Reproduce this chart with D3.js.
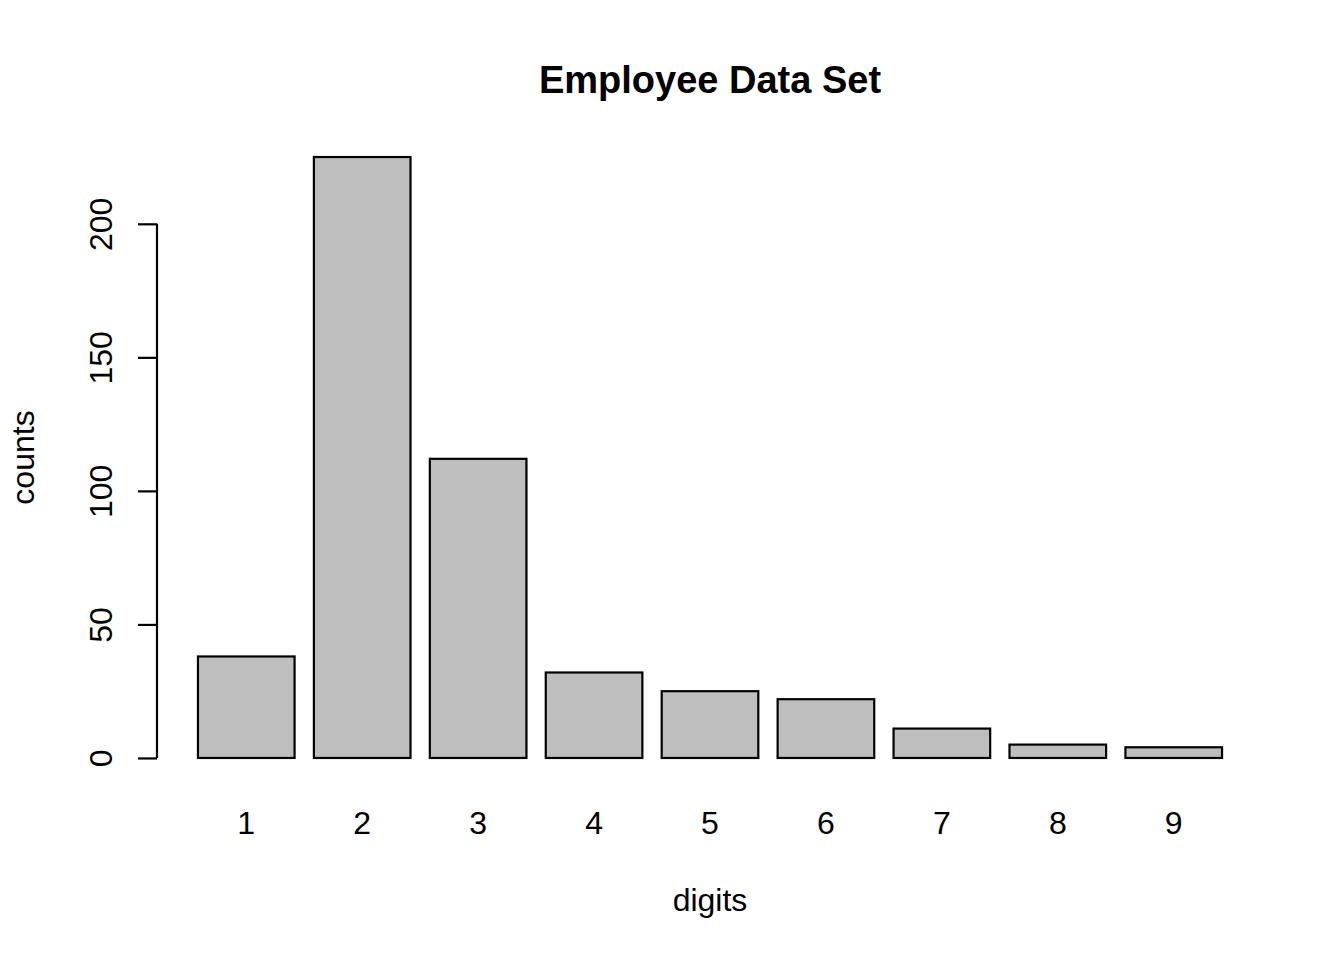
<!DOCTYPE html>
<html>
<head>
<meta charset="utf-8">
<script src="https://cdn.jsdelivr.net/npm/d3@7"></script>
<style>
  html, body { margin: 0; padding: 0; background: #fff; }
  svg { display: block; }
  text { font-family: "Liberation Sans", Arial, sans-serif; fill: #000; }
</style>
</head>
<body>
<svg id="chart" width="1344" height="960"></svg>
<script>
const categories = ["1", "2", "3", "4", "5", "6", "7", "8", "9"];
const counts = [38, 225, 112, 32, 25, 22, 11, 5, 4];
const yTicks = [0, 50, 100, 150, 200];
const title = "Employee Data Set";
const xLabel = "digits";
const yLabel = "counts";

const svg = d3.select("#chart");
const plot = { left: 157, right: 1263, top: 133, bottom: 782 };

// R barplot geometry: width 1, space 0.2, axis extended 4%
const barW = 1, space = 0.2;
const lefts = categories.map((c, i) => space + i * (barW + space));
const xmin = space, xmax = lefts[lefts.length - 1] + barW;
const xpad = (xmax - xmin) * 0.04;
const x = d3.scaleLinear().domain([xmin - xpad, xmax + xpad]).range([plot.left, plot.right]);

const ymaxData = d3.max(counts);
const ypad = ymaxData * 0.04;
const y = d3.scaleLinear().domain([-ypad, ymaxData + ypad]).range([plot.bottom, plot.top]);

// bars
svg.append("g").selectAll("rect").data(counts).join("rect")
  .attr("x", (d, i) => x(lefts[i]))
  .attr("width", (d, i) => x(lefts[i] + barW) - x(lefts[i]))
  .attr("y", d => y(d))
  .attr("height", d => y(0) - y(d))
  .attr("fill", "#bebebe")
  .attr("stroke", "#000")
  .attr("stroke-width", 2.2);

// y axis
const yAxis = d3.axisLeft(y).tickValues(yTicks).tickSize(19).tickPadding(0).tickFormat(d3.format("d"));
const gy = svg.append("g").attr("transform", `translate(${plot.left},0)`).call(yAxis);
gy.select(".domain").remove();
gy.append("line").attr("x1", 0).attr("x2", 0)
  .attr("y1", y(yTicks[0])).attr("y2", y(yTicks[yTicks.length - 1]))
  .attr("stroke", "#000").attr("stroke-width", 2.2);
gy.selectAll(".tick line").attr("stroke", "#000").attr("stroke-width", 2.2);
gy.selectAll(".tick text")
  .attr("font-size", 32)
  .attr("x", 0).attr("dy", null)
  .attr("text-anchor", "middle")
  .attr("transform", "translate(-45,0) rotate(-90)")
  .style("font-family", "'Liberation Sans', Arial, sans-serif")
  .attr("fill", "#000");

// x category labels
svg.append("g").selectAll("text").data(categories).join("text")
  .attr("x", (d, i) => x(lefts[i] + barW / 2))
  .attr("y", 834)
  .attr("text-anchor", "middle")
  .attr("font-size", 32)
  .text(d => d);

// title
svg.append("text")
  .attr("x", (plot.left + plot.right) / 2).attr("y", 93)
  .attr("text-anchor", "middle").attr("font-size", 38).attr("font-weight", "bold")
  .text(title);

// axis titles
svg.append("text")
  .attr("x", (plot.left + plot.right) / 2).attr("y", 911)
  .attr("text-anchor", "middle").attr("font-size", 32)
  .text(xLabel);

svg.append("text")
  .attr("transform", `translate(34,${(plot.top + plot.bottom) / 2}) rotate(-90)`)
  .attr("text-anchor", "middle").attr("font-size", 32)
  .text(yLabel);
</script>
</body>
</html>
